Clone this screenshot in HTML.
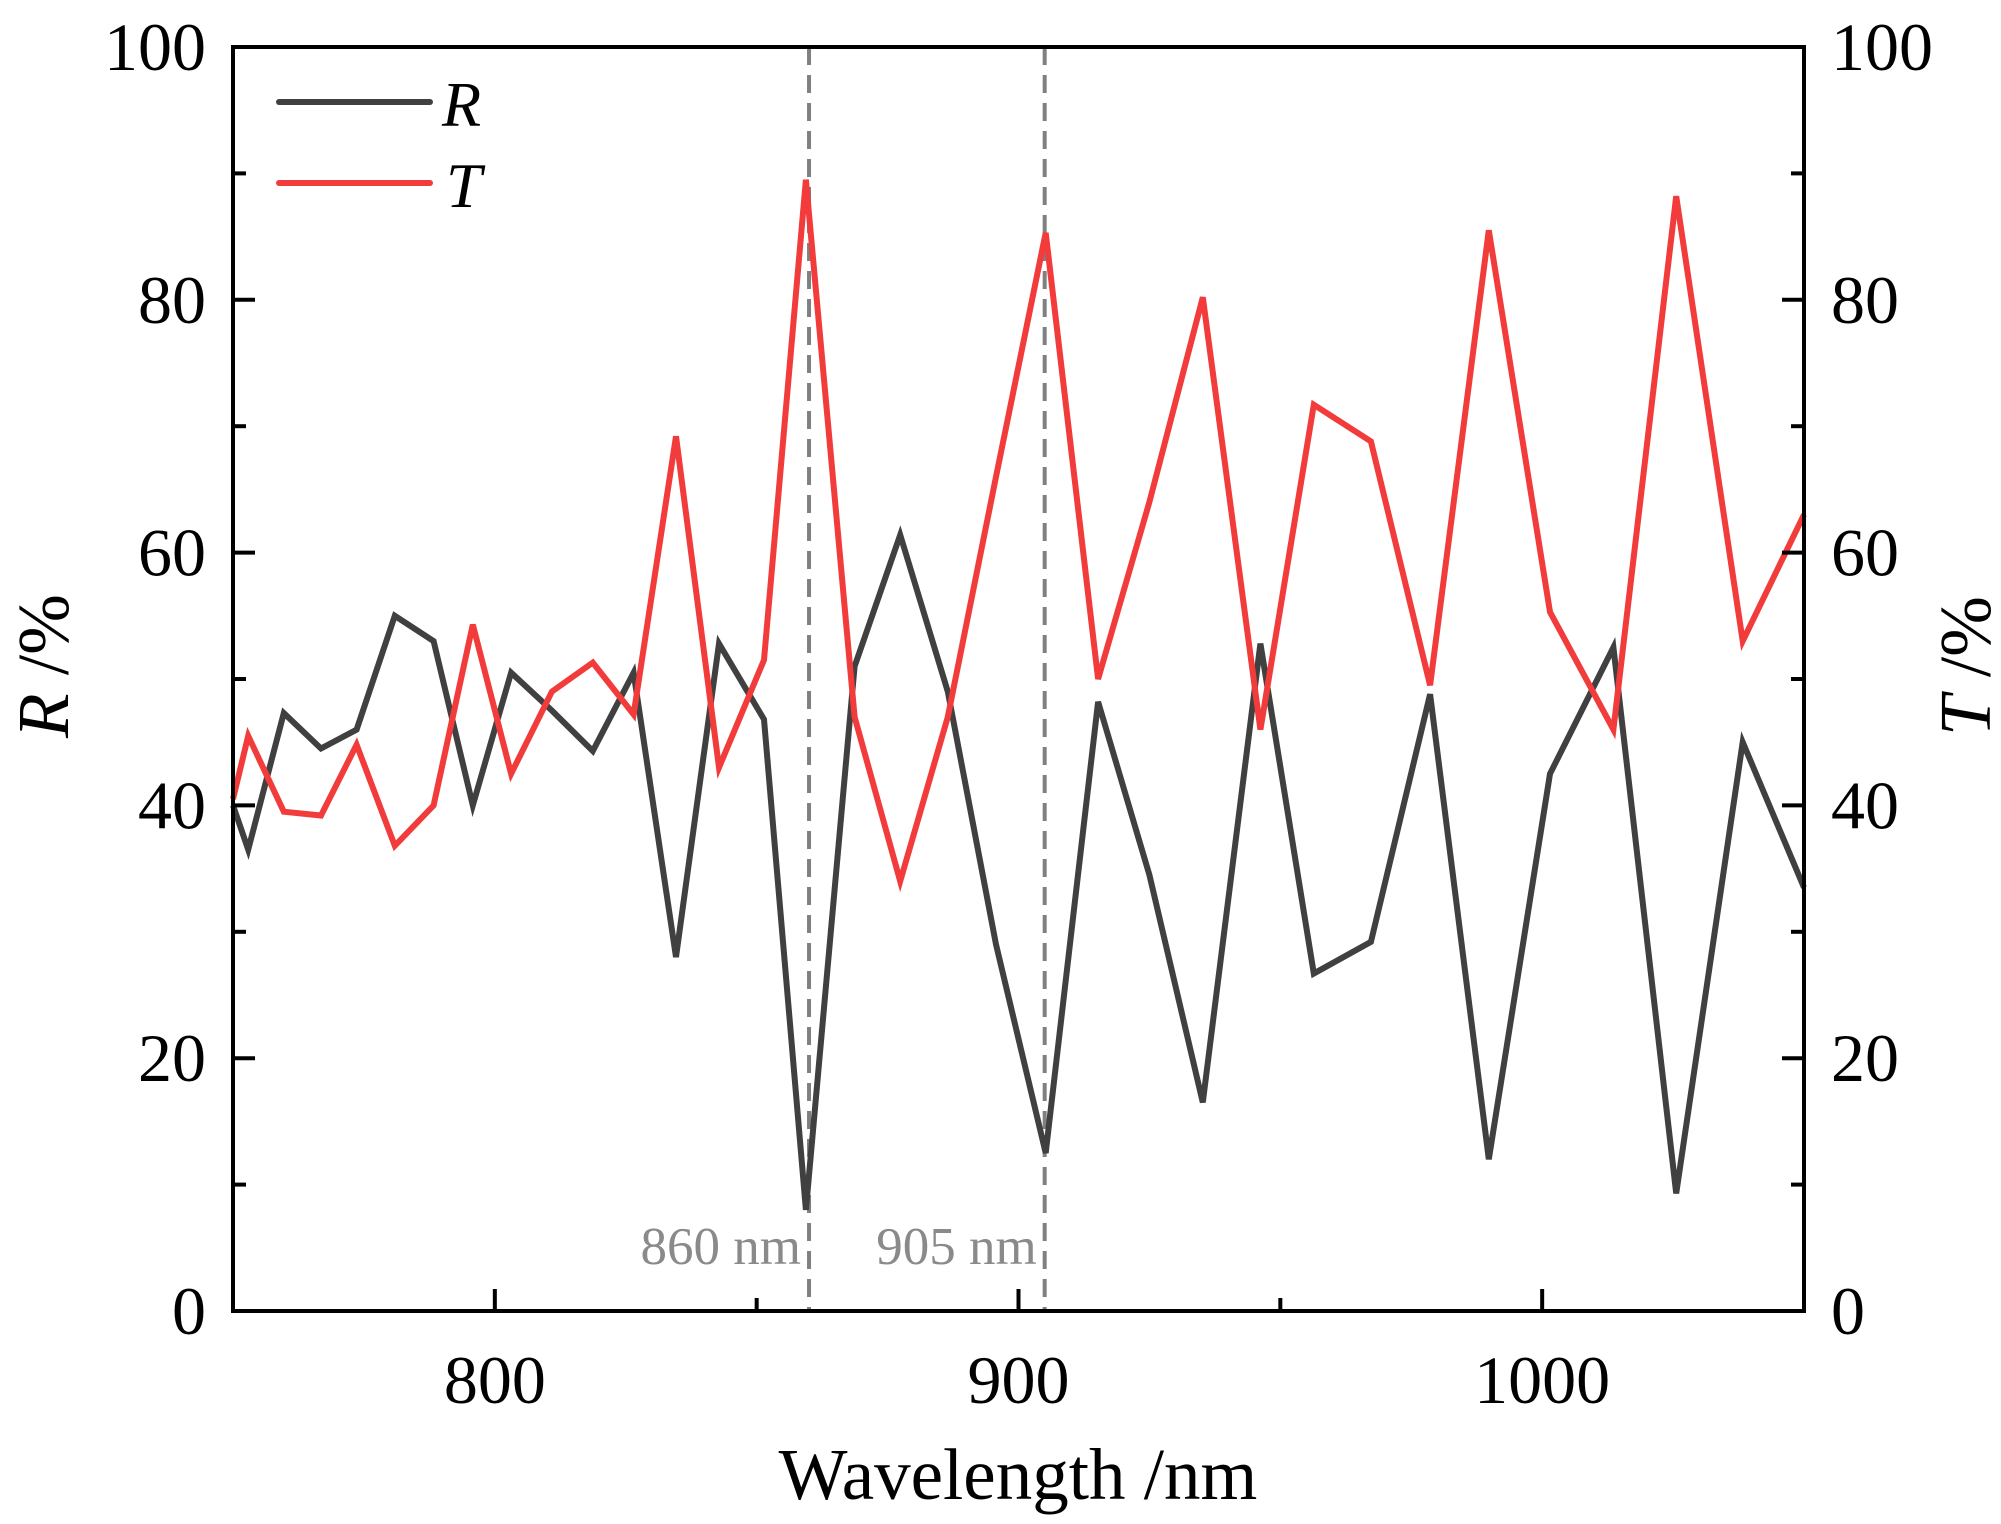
<!DOCTYPE html>
<html><head><meta charset="utf-8"><style>
html,body{margin:0;padding:0;background:#fff}
svg{display:block}
text{font-family:"Liberation Serif",serif}
</style></head><body>
<svg id="chart" width="2001" height="1524" viewBox="0 0 2001 1524" xmlns="http://www.w3.org/2000/svg">
<g id="plot"></g>
</svg>
<script>
const wavelengths=[750,752.9,759.7,766.8,773.6,780.9,788.3,795.8,803.1,810.9,818.7,826.5,834.6,842.8,851.4,859.4,868.7,877.4,886.5,895.7,905.2,915.2,925,935.2,946.2,956.4,967.3,978.6,989.8,1001.5,1013.6,1025.6,1038.3,1050];
const rValues=[40,36.5,47.3,44.5,46,55,53,40,50.5,47.5,44.3,50.5,28,52.8,46.8,8,51,61.4,49,29,12.5,48.2,34.5,16.5,52.8,26.7,29.2,48.8,12,42.5,52.5,9.3,45,33.5];
const tValues=[40.5,45.5,39.5,39.2,44.8,36.8,40,54.3,42.5,49,51.3,47.2,69.2,43,51.5,89.5,47,34,47,66,85.3,50,64,80.2,46,71.7,68.8,49.5,85.5,55.3,46,88.2,53,63];
const xTicks=[800,900,1000];
const xMinor=[850,950];
const yTicks=[0,20,40,60,80,100];
const yMinor=[10,30,50,70,90];
const markers=[860,905];
const markerLabels=["860 nm","905 nm"];

const L=233,R=1804,T=47,B=1311,X0=750,X1=1050;
const sx=v=>L+(v-X0)/(X1-X0)*(R-L);
const sy=v=>B-v/100*(B-T);
const NS="http://www.w3.org/2000/svg";
const g=document.getElementById('plot');
function mk(tag,attrs,parent){const e=document.createElementNS(NS,tag);for(const k in attrs)e.setAttribute(k,attrs[k]);(parent||g).appendChild(e);return e;}

markers.forEach((m,i)=>{
  const l=mk('line',{x1:sx(m),x2:sx(m),y1:T,y2:B,stroke:'#808080','stroke-width':4,'stroke-dasharray':'18,10'});
  
  
  const t=mk('text',{x:sx(m)-8,y:1264,'text-anchor':'end','font-size':53,fill:'#8a8a8a'});
  t.textContent=markerLabels[i];
  
  
});

function series(vals,color,name){
  const pts=wavelengths.map((w,i)=>sx(w).toFixed(1)+','+sy(vals[i]).toFixed(1)).join(' ');
  const p=mk('polyline',{points:pts,fill:'none',stroke:color,'stroke-width':6,'stroke-linejoin':'miter'});
  
  
}
series(rValues,'#404040','r-series-line');
series(tValues,'#f23b3b','t-series-line');

const f=mk('rect',{x:L,y:T,width:R-L,height:B-T,fill:'none',stroke:'#000','stroke-width':4});



yTicks.forEach(v=>{
  mk('line',{x1:L,x2:L+22,y1:sy(v),y2:sy(v),stroke:'#000','stroke-width':4});
  mk('line',{x1:R,x2:R-22,y1:sy(v),y2:sy(v),stroke:'#000','stroke-width':4});
  const a=mk('text',{x:206,y:sy(v)+23,'text-anchor':'end','font-size':68});
  a.textContent=v;
  
  
  const b=mk('text',{x:1831,y:sy(v)+23,'text-anchor':'start','font-size':68});
  b.textContent=v;
  
  
});
yMinor.forEach(v=>{
  mk('line',{x1:L,x2:L+13,y1:sy(v),y2:sy(v),stroke:'#000','stroke-width':4});
  mk('line',{x1:R,x2:R-13,y1:sy(v),y2:sy(v),stroke:'#000','stroke-width':4});
});
xTicks.forEach(v=>{
  mk('line',{x1:sx(v),x2:sx(v),y1:B,y2:B-22,stroke:'#000','stroke-width':4});
  const a=mk('text',{x:sx(v),y:1403,'text-anchor':'middle','font-size':68});
  a.textContent=v;
  
  
});
xMinor.forEach(v=>{mk('line',{x1:sx(v),x2:sx(v),y1:B,y2:B-13,stroke:'#000','stroke-width':4});});

const xt=mk('text',{x:1018,y:1499,'text-anchor':'middle','font-size':73});
xt.textContent='Wavelength /nm';


const yl=mk('text',{x:0,y:0,'text-anchor':'middle','font-size':73,transform:'translate(68,666) rotate(-90)'});
yl.innerHTML='<tspan font-style="italic">R</tspan> /%';


const yr=mk('text',{x:0,y:0,'text-anchor':'middle','font-size':73,transform:'translate(1990,666) rotate(-90)'});
yr.innerHTML='<tspan font-style="italic">T</tspan> /%';



const lg=mk('g',{});


mk('line',{x1:279,x2:430,y1:102,y2:102,stroke:'#404040','stroke-width':6,'stroke-linecap':'round'},lg);
mk('line',{x1:279,x2:430,y1:183,y2:183,stroke:'#f23b3b','stroke-width':6,'stroke-linecap':'round'},lg);
const lr=mk('text',{x:442,y:126,'font-size':64,'font-style':'italic'},lg);
lr.textContent='R';


const lt=mk('text',{x:446,y:207,'font-size':64,'font-style':'italic'},lg);
lt.textContent='T';


</script>
</body></html>
